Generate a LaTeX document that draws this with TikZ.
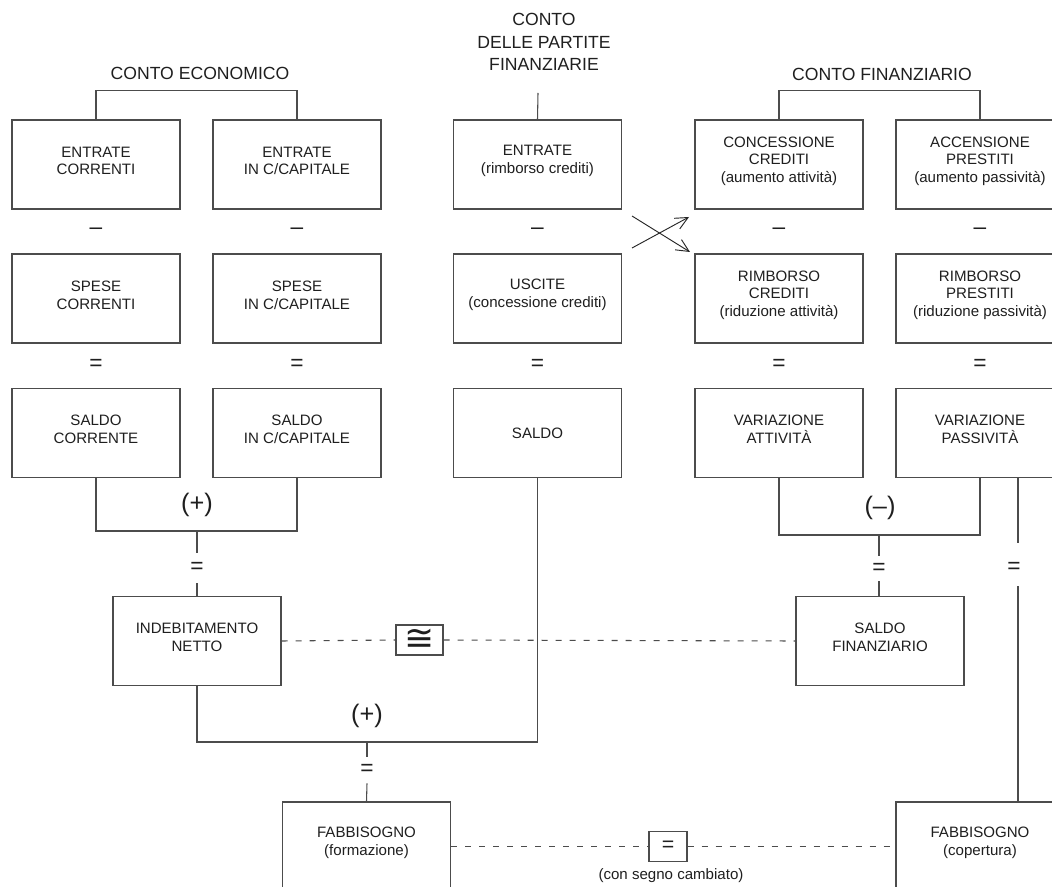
\documentclass[tikz,border=0pt]{standalone}
\usepackage{fontspec}
\setmainfont{Liberation Sans}
\newfontfamily\symf{DejaVu Sans}
\usetikzlibrary{arrows.meta}
\definecolor{linec}{gray}{0.3}
\definecolor{textc}{gray}{0.12}
\begin{document}
\begin{tikzpicture}[x=0.75pt,y=-0.75pt,
  box/.style={draw=linec, line width=0.8pt, minimum width=126pt, minimum height=66.75pt, inner sep=0pt},
  txt/.style={align=center, font=\fontsize{11.3}{13.2}\selectfont, text=textc, inner sep=0pt},
  lb/.style={label={[txt,yshift=2.6pt]center:{#1}}},
  hdr/.style={align=center, font=\fontsize{13.2}{16.9}\selectfont, text=textc},
  sgn/.style={font=\fontsize{17}{18}\selectfont, text=textc, inner sep=0pt},
  par/.style={font=\fontsize{19}{20}\selectfont, text=textc, inner sep=0pt},
  conn/.style={draw=linec, line width=0.8pt},
  dsh/.style={draw=linec, line width=0.8pt, dash pattern=on 4.5pt off 6pt},
  mini/.style={draw=linec, line width=0.8pt, inner sep=0pt, text=textc},
  cross/.style={draw=black!85, line width=0.7pt, -{Straight Barb[length=9.5pt,width=9pt]}}
]
\useasboundingbox (0,0) rectangle (1052,887);
\fill[white] (0,0) rectangle (1052,887);
\clip (0,0) rectangle (1052,887);

% headers
\node[hdr] (hce) at (200,73) {CONTO ECONOMICO};
\node[hdr] (hpf) at (544,42) {CONTO\\DELLE PARTITE\\FINANZIARIE};
\node[hdr] (hcf) at (882,74) {CONTO FINANZIARIO};

% row 1
\node[box, lb={ENTRATE\\CORRENTI}] (ea) at (96,164.5) {};
\node[box, lb={ENTRATE\\IN C/CAPITALE}] (eb) at (297,164.5) {};
\node[box, lb={ENTRATE\\(rimborso crediti)}] (pe) at (537.5,164.5) {};
\node[box, lb={CONCESSIONE\\CREDITI\\(aumento attività)}] (cc) at (779,164.5) {};
\node[box, lb={ACCENSIONE\\PRESTITI\\(aumento passività)}] (ap) at (980,164.5) {};

% row 2
\node[box, lb={SPESE\\CORRENTI}] (sa) at (96,298.5) {};
\node[box, lb={SPESE\\IN C/CAPITALE}] (sb) at (297,298.5) {};
\node[box, lb={USCITE\\(concessione crediti)}] (pu) at (537.5,298.5) {};
\node[box, lb={RIMBORSO\\CREDITI\\(riduzione attività)}] (rc) at (779,298.5) {};
\node[box, lb={RIMBORSO\\PRESTITI\\(riduzione passività)}] (rp) at (980,298.5) {};

% row 3
\node[box, lb={SALDO\\CORRENTE}] (sc) at (96,433) {};
\node[box, lb={SALDO\\IN C/CAPITALE}] (sk) at (297,433) {};
\node[box, label={[txt]center:SALDO}] (ps) at (537.5,433) {};
\node[box, lb={VARIAZIONE\\ATTIVITÀ}] (va) at (779,433) {};
\node[box, lb={VARIAZIONE\\PASSIVITÀ}] (vp) at (980,433) {};

% lower boxes
\node[box, lb={INDEBITAMENTO\\NETTO}] (ind) at (197,641) {};
\node[box, lb={SALDO\\FINANZIARIO}] (sf) at (880,641) {};
\node[box, lb={FABBISOGNO\\(formazione)}] (ff) at (366.5,846.5) {};
\node[box, lb={FABBISOGNO\\(copertura)}] (fc) at (980,846.5) {};

% top brackets
\draw[conn] (ea.north) -- ++(0,-29) -| (eb.north);
\draw[conn] (cc.north) -- ++(0,-29) -| (ap.north);
\coordinate (pt) at (538,93);
\draw[conn] (pe.north) -- (pt);

% minus and equal signs between rows
\foreach \x/\n in {96/1,297/2,537.5/3,779/4,980/5}{
  \node[sgn] (m\n) at (\x,231) {–};
  \node[sgn] (q\n) at (\x,365) {=};
}

% cross arrows
\coordinate (x1s) at (632,216);
\coordinate (x1e) at (690,252);
\coordinate (x2s) at (632,248);
\coordinate (x2e) at (689,217);
\draw[cross] (x1s) -- (x1e);
\draw[cross] (x2s) -- (x2e);

% left combination
\coordinate (lj) at (197,531);
\draw[conn] (sc.south) |- (lj) -| (sk.south);
\node[par] (plA) at (197,505) {(+)};
\node[sgn, minimum height=22.5pt] (eqA) at (197,568) {=};
\draw[conn] (lj) -- (eqA.north);
\draw[conn] (eqA.south) -- (ind.north);

% right combination
\coordinate (rj) at (879,535);
\draw[conn] (va.south) |- (rj) -| (vp.south);
\node[par] (mnB) at (880,508) {(–)};
\node[sgn, minimum height=18.75pt] (eqB) at (879,568.5) {=};
\draw[conn] (rj) -- (eqB.north);
\draw[conn] (eqB.south) -- (sf.north -| eqB.south);

% right vertical to copertura
\coordinate (rvt) at (1018,543);
\coordinate (rvb) at (1018,586);
\node[sgn] (eqC) at (1014,568) {=};
\draw[conn] (vp.south -| rvt) -- (rvt);
\draw[conn] (rvb) -- (fc.north -| rvb);

% middle combination
\coordinate (mj) at (367,742);
\draw[conn] (ps.south) |- (mj) -| (ind.south);
\node[par] (plD) at (367,716) {(+)};
\node[sgn, minimum height=19.5pt] (eqD) at (367,770) {=};
\draw[conn] (mj) -- (eqD.north);
\draw[conn] (eqD.south) -- (ff.north);

% dashed relations
\node[mini, minimum width=35.25pt, minimum height=22.5pt, font=\symf\fontsize{27}{27}\selectfont] (cg) at (419.5,640) {≅};
\draw[dsh] (ind.east) -- (cg.west);
\draw[dsh] (cg.east) -- (sf.west);

\node[mini, minimum width=28.5pt, minimum height=22.5pt, font=\fontsize{16}{16}\selectfont] (eqE) at (668,846.5) {=};
\draw[dsh] (ff.east) -- (eqE.west);
\draw[dsh] (eqE.east) -- (fc.west);
\node[txt] (csc) at (671,876) {(con segno cambiato)};
\end{tikzpicture}
\end{document}
